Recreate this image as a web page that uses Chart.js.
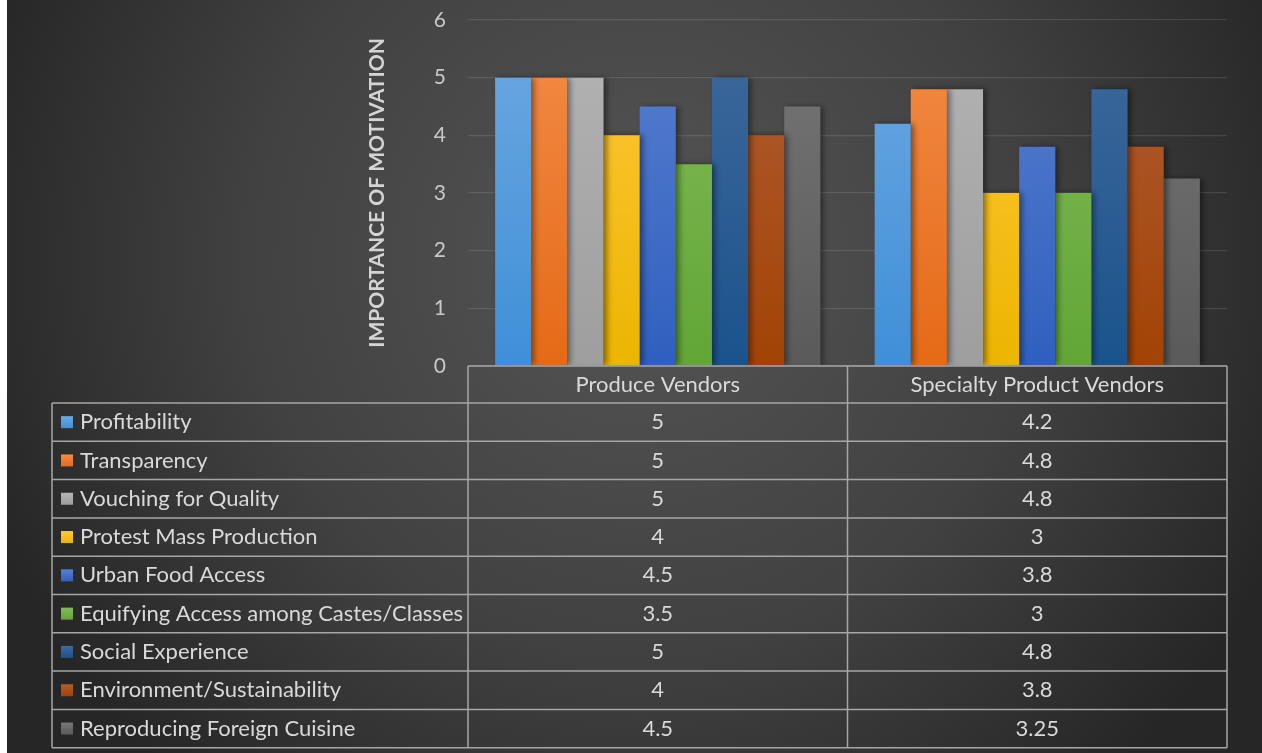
<!DOCTYPE html>
<html>
<head>
<meta charset="utf-8">
<script src="https://cdn.jsdelivr.net/npm/chart.js@4.4.0/dist/chart.umd.min.js"></script>
<style>
  html, body { margin: 0; padding: 0; background: #fff; }
  #wrap { width: 1262px; height: 753px; }
</style>
</head>
<body>
<div id="wrap"><canvas id="chart" width="1262" height="753"></canvas></div>
<script>
var categories = ['Produce Vendors', 'Specialty Product Vendors']
var motivations = [
  'Profitability',
  'Transparency',
  'Vouching for Quality',
  'Protest Mass Production',
  'Urban Food Access',
  'Equifying Access among Castes/Classes',
  'Social Experience',
  'Environment/Sustainability',
  'Reproducing Foreign Cuisine'
]
var produceValues = [5, 5, 5, 4, 4.5, 3.5, 5, 4, 4.5]
var specialtyValues = [4.2, 4.8, 4.8, 3, 3.8, 3, 4.8, 3.8, 3.25]
var yTicks = [0, 1, 2, 3, 4, 5, 6]

// top / bottom colour of each series gradient
var colors = [
  ['#6ea9e0', '#3f8fd8'],
  ['#f38c48', '#e56a17'],
  ['#b4b4b4', '#9e9e9e'],
  ['#ffc93c', '#ecb500'],
  ['#5a80cf', '#2f5fbf'],
  ['#82bb5a', '#62a636'],
  ['#40699c', '#1a538c'],
  ['#b05d34', '#a24305'],
  ['#777777', '#5a5a5a']
]

var textColor = '#d9d9d9'
var lineColor = '#a6a6a6'
var fontFamily = 'Lato, "Open Sans", sans-serif'
var rowHeight = 38.3
var tableLeft = 52

function barGradient(i) {
  return function (context) {
    var chart = context.chart
    var area = chart.chartArea
    if (!area) return colors[i][0]
    var g = chart.ctx.createLinearGradient(0, area.top, 0, area.bottom)
    g.addColorStop(0, colors[i][0])
    g.addColorStop(1, colors[i][1])
    return g
  }
}

var datasets = motivations.map(function (name, i) {
  return {
    label: name,
    data: [produceValues[i], specialtyValues[i]],
    backgroundColor: barGradient(i),
    borderWidth: 0
  }
})

var background = {
  id: 'background',
  beforeDraw: function (chart) {
    var ctx = chart.ctx
    ctx.save()
    ctx.fillStyle = '#ffffff'
    ctx.fillRect(0, 0, chart.width, chart.height)
    var g = ctx.createRadialGradient(640, 260, 20, 640, 260, 700)
    g.addColorStop(0, '#545454')
    g.addColorStop(0.55, '#414141')
    g.addColorStop(1, '#262626')
    ctx.fillStyle = g
    ctx.fillRect(7, 0, chart.width - 7, chart.height)
    ctx.restore()
  }
}

var barShadow = {
  id: 'barShadow',
  beforeDatasetsDraw: function (chart) {
    var ctx = chart.ctx
    ctx.save()
    ctx.shadowColor = 'rgba(0,0,0,0.45)'
    ctx.shadowBlur = 6
    ctx.shadowOffsetX = 3
    ctx.shadowOffsetY = 0
  },
  afterDatasetsDraw: function (chart) {
    chart.ctx.restore()
  }
}

// data table under the plot, columns follow the category scale
var dataTable = {
  id: 'dataTable',
  afterDraw: function (chart) {
    var ctx = chart.ctx
    var area = chart.chartArea
    var x = chart.scales.x
    var half = (x.getPixelForValue(1) - x.getPixelForValue(0)) / 2
    var colEdges = [area.left, x.getPixelForValue(0) + half, area.right]
    var top = area.bottom
    var headBottom = top + 37
    var bottom = headBottom + rowHeight * motivations.length

    ctx.save()
    ctx.strokeStyle = lineColor
    ctx.lineWidth = 1.5
    ctx.beginPath()
    ctx.moveTo(area.left, top); ctx.lineTo(area.right, top)
    for (var r = 0; r <= motivations.length; r++) {
      var yy = headBottom + r * rowHeight
      ctx.moveTo(tableLeft, yy); ctx.lineTo(area.right, yy)
    }
    colEdges.forEach(function (cx) {
      ctx.moveTo(cx, top); ctx.lineTo(cx, bottom)
    })
    ctx.moveTo(tableLeft, headBottom); ctx.lineTo(tableLeft, bottom)
    ctx.stroke()

    ctx.fillStyle = textColor
    ctx.font = '22px ' + fontFamily
    ctx.textBaseline = 'middle'
    ctx.textAlign = 'center'
    categories.forEach(function (c, j) {
      ctx.fillText(c, x.getPixelForValue(j), (top + headBottom) / 2)
    })

    motivations.forEach(function (name, i) {
      var cy = headBottom + rowHeight * (i + 0.5)
      var g = ctx.createLinearGradient(0, cy - 6, 0, cy + 6)
      g.addColorStop(0, colors[i][0])
      g.addColorStop(1, colors[i][1])
      ctx.fillStyle = g
      ctx.fillRect(tableLeft + 9, cy - 6, 12, 12)
      ctx.fillStyle = textColor
      ctx.textAlign = 'left'
      ctx.fillText(name, tableLeft + 28, cy)
      ctx.textAlign = 'center'
      ctx.fillText(String(produceValues[i]), x.getPixelForValue(0), cy)
      ctx.fillText(String(specialtyValues[i]), x.getPixelForValue(1), cy)
    })
    ctx.restore()
  }
}

new Chart(document.getElementById('chart').getContext('2d'), {
  type: 'bar',
  data: { labels: categories, datasets: datasets },
  options: {
    responsive: false,
    animation: false,
    layout: { padding: { left: 361, right: 35, top: 20, bottom: 387 } },
    categoryPercentage: 0.857,
    barPercentage: 1.0,
    plugins: {
      legend: { display: false },
      tooltip: { enabled: false }
    },
    scales: {
      x: { display: false },
      y: {
        min: 0,
        max: 6,
        afterBuildTicks: function (s) {
          s.ticks = yTicks.map(function (v) { return { value: v } })
        },
        afterFit: function (s) { s.width = 107 },
        border: { display: false },
        grid: {
          color: 'rgba(255,255,255,0.11)',
          lineWidth: 1.2,
          drawTicks: true,
          tickLength: 22,
          tickColor: 'rgba(0,0,0,0)'
        },
        ticks: { color: '#c8c8c8', padding: 0, font: { family: fontFamily, size: 21 } },
        title: {
          display: true,
          text: 'IMPORTANCE OF MOTIVATION',
          color: '#d4d4d4',
          font: { family: fontFamily, size: 21, weight: 'bold' }
        }
      }
    }
  },
  plugins: [background, barShadow, dataTable]
})
</script>
</body>
</html>
